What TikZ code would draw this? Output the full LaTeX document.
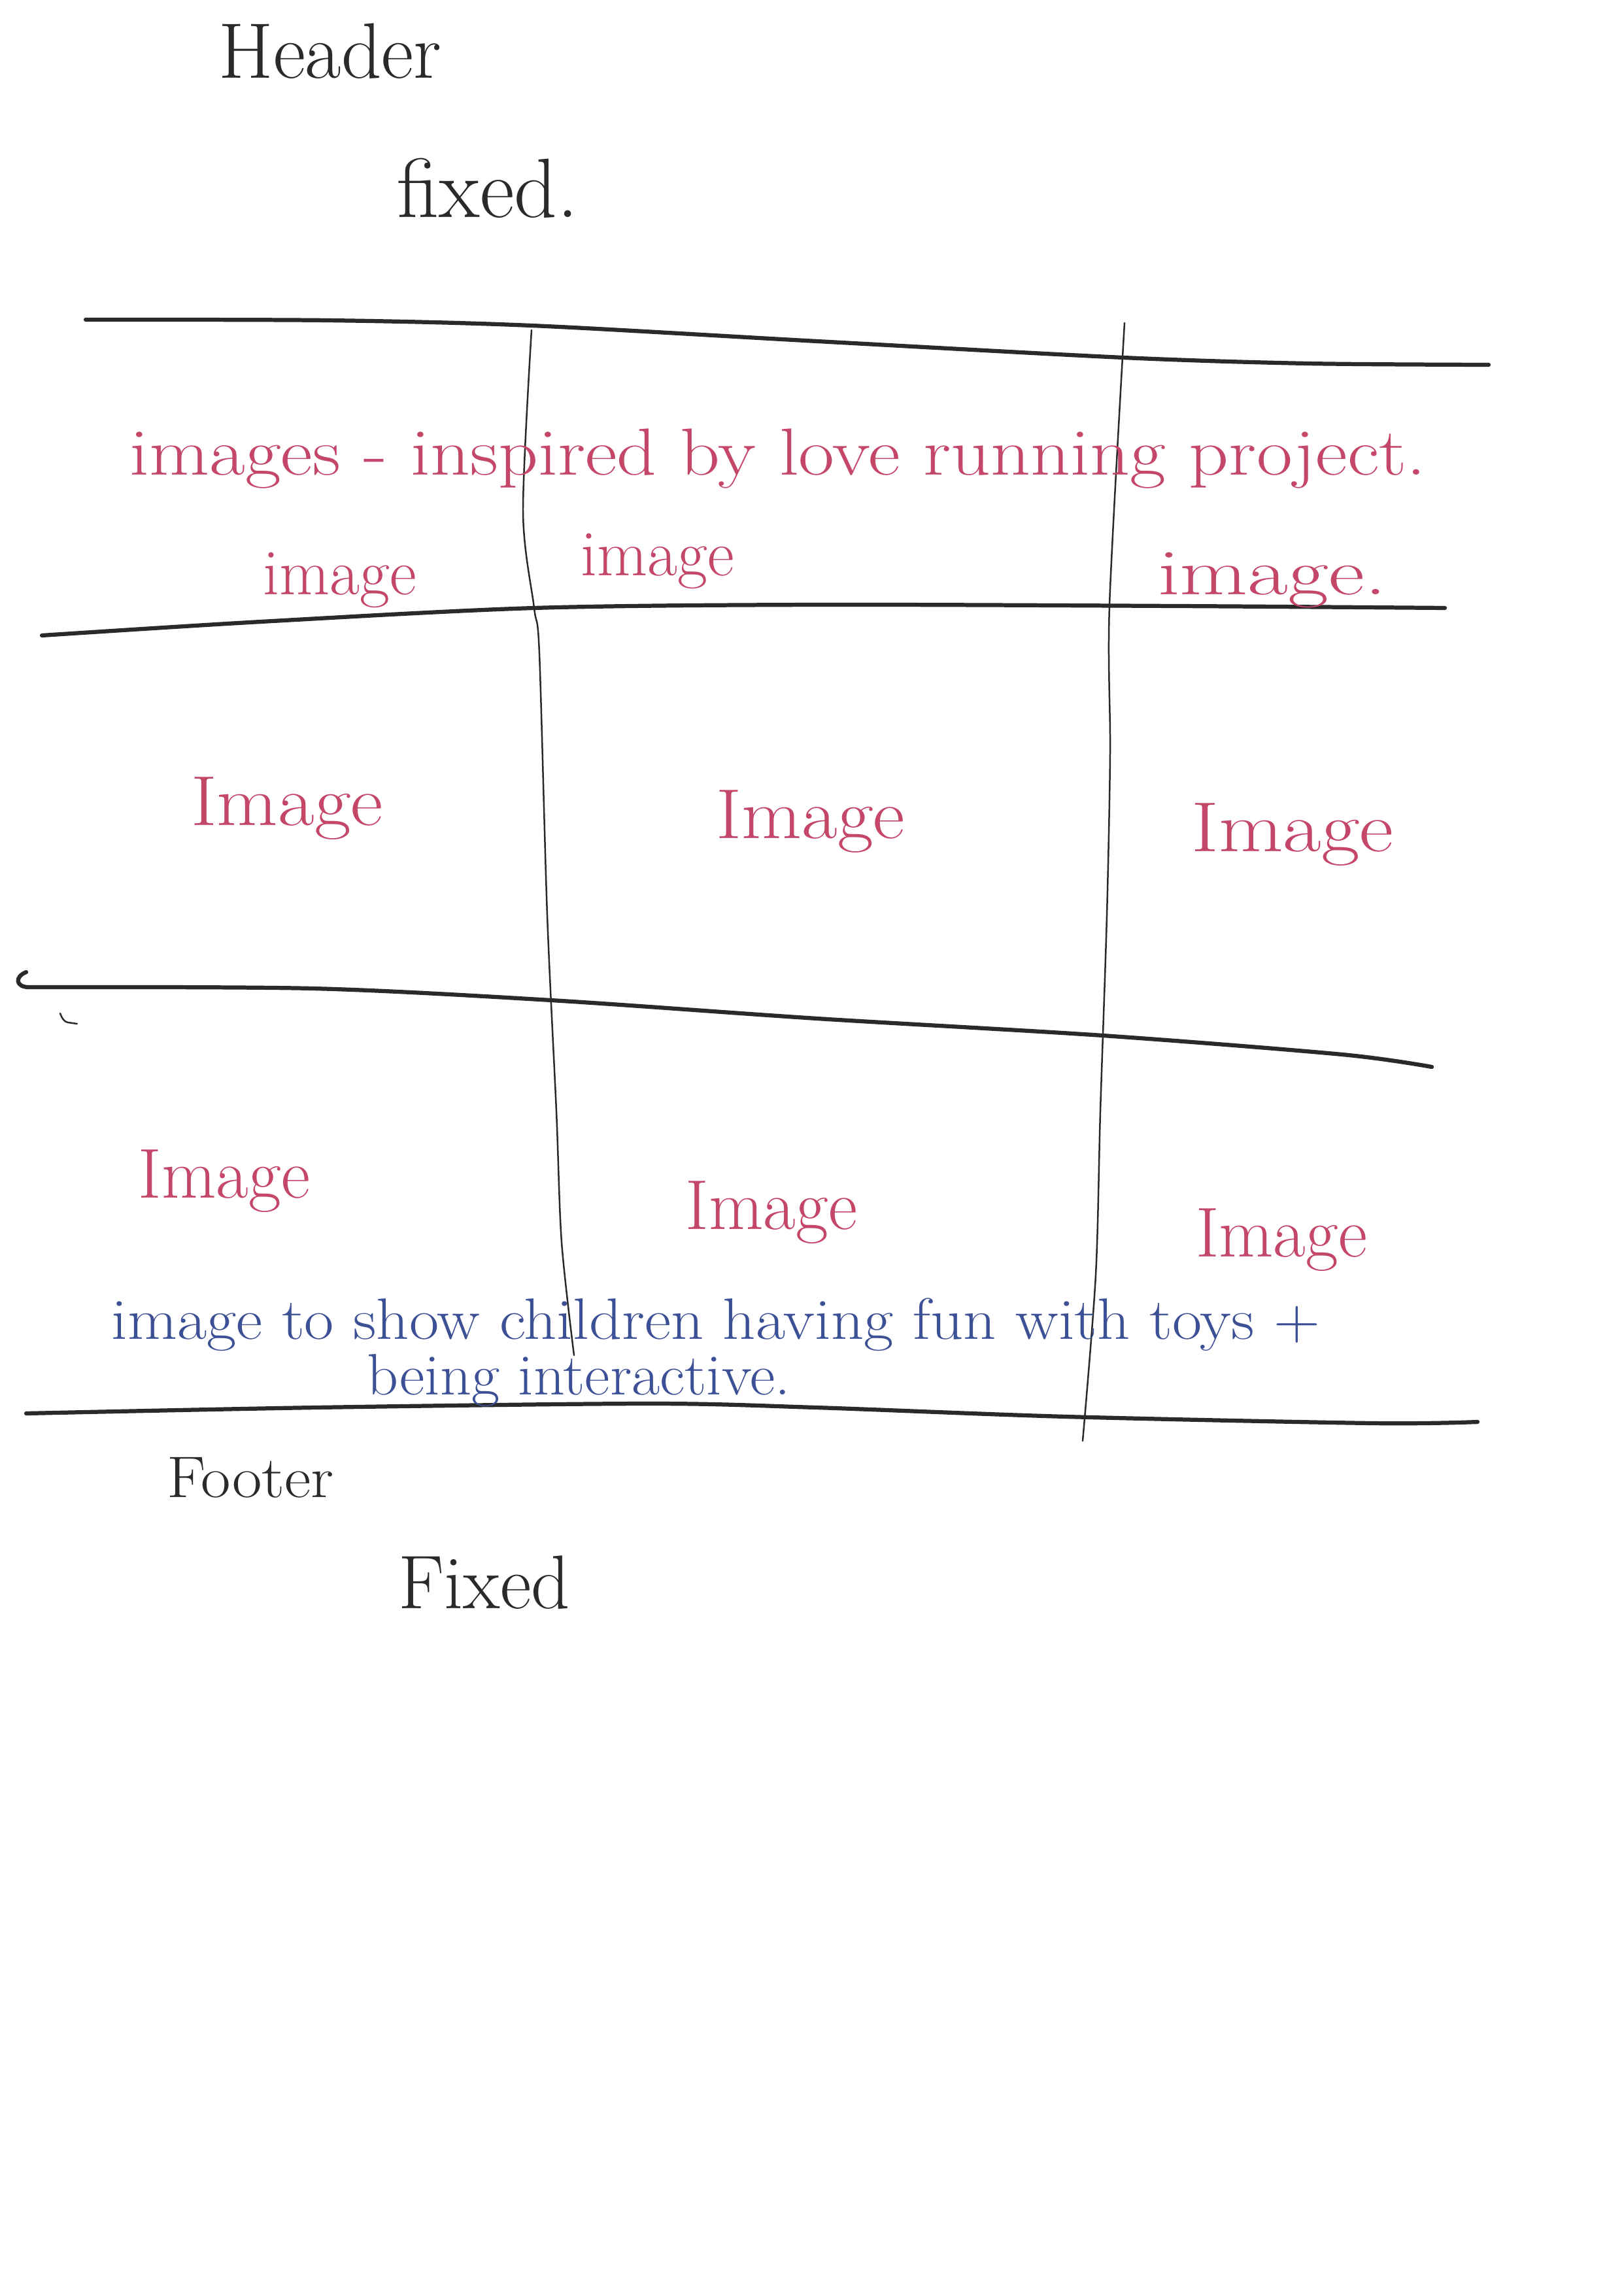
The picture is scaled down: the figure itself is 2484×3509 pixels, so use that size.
\documentclass[tikz,border=0pt]{standalone}
\usepackage{fontspec}
\usepackage{graphicx}
\definecolor{pencilgray}{RGB}{42,42,42}
\definecolor{redink}{RGB}{196,70,104}
\definecolor{blueink}{RGB}{60,80,150}
\newcommand{\wide}[2]{\scalebox{#1}[1]{#2}}
\begin{document}
\begin{tikzpicture}[x=0.0084541cm,y=-0.0084541cm,
  gridline/.style={line width=1.5pt,color=pencilgray,line cap=round,line join=round},
  colline/.style={line width=0.6pt,color=pencilgray,line cap=round},
  note/.style={inner sep=0pt,anchor=base,color=pencilgray},
  redtext/.style={inner sep=0pt,anchor=base,color=redink},
  bluetext/.style={inner sep=0pt,anchor=base,color=blueink}]
\useasboundingbox[fill=white] (0,0) rectangle (2484,3509);

% header notes
\node[note,font=\fontsize{29}{35}\selectfont] (header) at (505,120) {Header};
\node[note,font=\fontsize{31}{37}\selectfont] (headfix) at (746,333) {fixed.};

% horizontal rules of the layout grid
\draw[gridline] plot[smooth] coordinates {(131,489) (500,490) (813,498) (1250,522) (1718,547) (2000,556) (2277,558)};
\draw[gridline] plot[smooth] coordinates {(64,972) (399,951) (817,930) (1250,925) (1800,927) (2210,930)};
\draw[gridline] (40,1487) .. controls (22,1494) and (24,1510) .. (44,1510);
\draw[gridline] plot[smooth] coordinates {(44,1510) (478,1512) (843,1530) (1250,1558) (1687,1584) (2053,1613) (2190,1632)};
\draw[gridline] plot[smooth] coordinates {(40,2162) (483,2153) (993,2147) (1248,2153) (1631,2167) (2100,2177) (2260,2175)};
\draw[colline] (92,1550) .. controls (95,1558) and (98,1563) .. (104,1564) -- (118,1566);

% column dividers
\draw[colline] plot[smooth] coordinates {(813,505) (800,783) (817,930) (825,1000) (837,1400) (851,1700) (859,1900) (878,2073)};
\draw[colline] plot[smooth] coordinates {(1720,494) (1697,926) (1698,1150) (1693,1400) (1683,1700) (1676,1950) (1656,2204)};

% top band
\node[redtext,font=\fontsize{24.5}{30}\selectfont] (intro) at (1190,727) {\wide{1.17}{images - inspired by love running project.}};
\node[redtext,font=\fontsize{24}{30}\selectfont] (imgA) at (520,909) {image};
\node[redtext,font=\fontsize{24}{30}\selectfont] (imgB) at (1006,880) {image};
\node[redtext,font=\fontsize{24}{30}\selectfont] (imgC) at (1946,909) {\wide{1.35}{image.}};

% middle band
\node[redtext,font=\fontsize{26}{32}\selectfont] (imgD) at (439,1262) {\wide{1.12}{Image}};
\node[redtext,font=\fontsize{26}{32}\selectfont] (imgE) at (1240,1282) {\wide{1.1}{Image}};
\node[redtext,font=\fontsize{26}{32}\selectfont] (imgF) at (1977,1302) {\wide{1.18}{Image}};

% bottom band
\node[redtext,font=\fontsize{26}{32}\selectfont] (imgG) at (343,1832) {Image};
\node[redtext,font=\fontsize{26}{32}\selectfont] (imgH) at (1180,1880) {Image};
\node[redtext,font=\fontsize{26}{32}\selectfont] (imgI) at (1960,1922) {Image};

\node[bluetext,font=\fontsize{21.5}{26}\selectfont] (kidsA) at (1095,2048) {\wide{1.1}{image to show children having fun with toys +}};
\node[bluetext,font=\fontsize{21.5}{26}\selectfont] (kidsB) at (885,2133) {\wide{1.05}{being interactive.}};

% footer notes
\node[note,font=\fontsize{21.6}{26}\selectfont] (footer) at (383,2290) {\wide{1.1}{Footer}};
\node[note,font=\fontsize{28}{34}\selectfont] (footfix) at (741,2460) {Fixed};
\end{tikzpicture}
\end{document}
